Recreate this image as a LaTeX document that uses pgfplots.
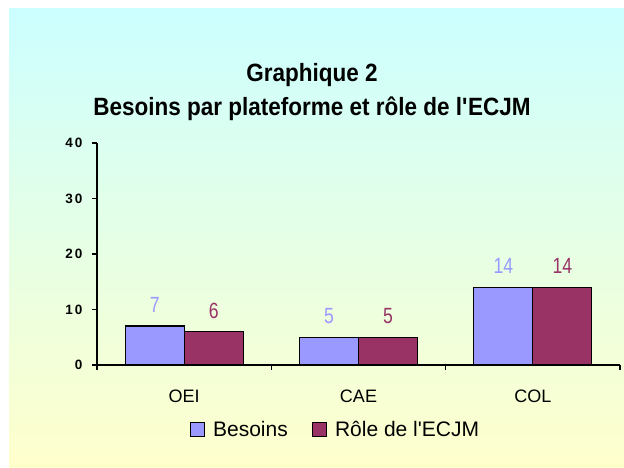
\documentclass[border=0pt]{standalone}
\usepackage{fontspec}
\setmainfont{Liberation Sans}
\newfontfamily\titlefont{Liberation Sans}[FakeStretch=0.9]
\newfontfamily\narrowfont{Liberation Sans}[FakeStretch=0.8]
\newfontfamily\tickfont{Liberation Sans}[LetterSpace=15]
\usepackage{pgfplots}
\pgfplotsset{compat=1.18}
\definecolor{besoins}{HTML}{9999FF}
\definecolor{role}{HTML}{993366}
\definecolor{bgtop}{HTML}{CCFFFF}
\definecolor{bgbot}{HTML}{FFFFCC}
\begin{document}
\begin{tikzpicture}
\useasboundingbox (0,0) rectangle (624pt,468pt);
\shade[top color=bgtop, bottom color=bgbot] (9pt,0pt) rectangle (624pt,459pt);
\node[font=\titlefont\bfseries\fontsize{25}{25}\selectfont, anchor=base, inner sep=0pt] at (312pt,386pt) {Graphique 2};
\node[font=\titlefont\bfseries\fontsize{25}{25}\selectfont, anchor=base, inner sep=0pt] at (312pt,352pt) {Besoins par plateforme et rôle de l\textquotesingle ECJM};
\begin{axis}[
  at={(97pt,103pt)}, anchor=south west, scale only axis,
  width=523pt, height=222pt,
  ybar=0pt, bar width=59pt,
  xmin=-0.5, xmax=2.5, ymin=0, ymax=40,
  clip=false,
  axis x line*=bottom, axis y line*=left,
  axis line style={line width=1.3pt, black},
  xtick={-0.5,0.5,1.5,2.5}, xticklabels={},
  extra x ticks={0,1,2}, extra x tick labels={OEI,CAE,COL},
  extra x tick style={major tick length=0pt},
  xticklabel style={font=\fontsize{18}{18}\selectfont, yshift=-21pt},
  ytick={0,10,20,30,40},
  yticklabel style={font=\tickfont\bfseries\fontsize{13.5}{14}\selectfont, xshift=-6pt},
  /pgf/number format/assume math mode=true,
  tick align=outside, major tick length=5pt,
  tick style={line width=1.3pt, black},
  legend style={at={(0.456,-0.29)}, anchor=center, draw=none, fill=none,
    legend columns=2, font=\fontsize{21}{21}\selectfont,
    /tikz/every even column/.append style={column sep=22pt}},
  legend image code/.code={\draw[#1, line width=1.2pt] (0pt,-7pt) rectangle (14pt,7pt);},
  nodes near coords,
  every node near coord/.append style={font=\narrowfont\fontsize{22}{22}\selectfont, anchor=center, yshift=21pt},
]
\addplot[draw=black, line width=1.3pt, fill=besoins,
  every node near coord/.append style={text=besoins}]
  coordinates {(0,7) (1,5) (2,14)};
\addplot[draw=black, line width=1.3pt, fill=role,
  every node near coord/.append style={text=role}]
  coordinates {(0,6) (1,5) (2,14)};
\legend{\hspace{6pt}Besoins, \hspace{6pt}Rôle de l\textquotesingle ECJM}
\end{axis}
\end{tikzpicture}
\end{document}
